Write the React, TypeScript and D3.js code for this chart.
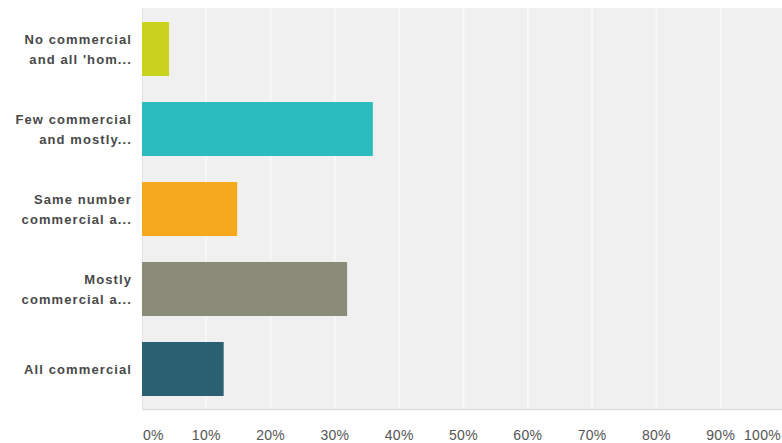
import React from "react";
import * as d3 from "d3";

const categories = ["c1", "c2", "c3", "c4", "c5"];
const labelLines = [
  ["No commercial", "and all 'hom..."],
  ["Few commercial", "and mostly..."],
  ["Same number", "commercial a..."],
  ["Mostly", "commercial a..."],
  ["All commercial"],
];
const values = [4.2, 35.9, 14.8, 31.9, 12.7];
const colors = ["#c9d31e", "#2bbcbf", "#f6a91c", "#8a8b79", "#2b5f72"];
const ticks = [0, 10, 20, 30, 40, 50, 60, 70, 80, 90, 100];

export default function App() {
  const W = 782;
  const H = 443;
  const x = d3.scaleLinear().domain([0, 100]).range([142, 785]);
  const y = d3
    .scaleBand<string>()
    .domain(categories)
    .range([9, 409])
    .paddingInner(0.325)
    .paddingOuter(0.1625);
  const font = "'Liberation Sans', Arial, Helvetica, sans-serif";
  return (
    <svg
      width={W}
      height={H}
      style={{ position: "absolute", left: 0, top: 0, background: "#fff" }}
    >
      <rect x={142} y={8} width={W - 142} height={401} fill="#f0f0f0" />
      {ticks.slice(1).map((t) => (
        <line
          key={t}
          x1={x(t)}
          x2={x(t)}
          y1={8}
          y2={409}
          stroke="#f9f9f9"
          strokeWidth={1.5}
        />
      ))}
      <line x1={142} x2={W} y1={409.5} y2={409.5} stroke="#dedede" strokeWidth={1.5} />
      <line x1={142.5} x2={142.5} y1={8} y2={410} stroke="#e4e4e4" strokeWidth={1} />
      {categories.map((c, i) => (
        <rect
          key={c}
          x={x(0)}
          y={y(c)!}
          width={x(values[i]) - x(0)}
          height={y.bandwidth()}
          fill={colors[i]}
        />
      ))}
      {categories.map((c, i) => {
        const lines = labelLines[i];
        const cy = y(c)! + y.bandwidth() / 2;
        const lh = 20;
        const start = cy - ((lines.length - 1) * lh) / 2 + 4.5;
        return (
          <text
            key={c}
            textAnchor="end"
            fontFamily={font}
            fontWeight="bold"
            fontSize={13}
            letterSpacing={1.1}
            fill="#484848"
          >
            {lines.map((l, j) => (
              <tspan key={j} x={132} y={start + j * lh}>
                {l}
              </tspan>
            ))}
          </text>
        );
      })}
      {ticks.map((t) => {
        let anchor: "start" | "middle" | "end" = "middle";
        let tx = x(t);
        if (t === 0) {
          anchor = "start";
          tx = 143;
        }
        if (t === 100) {
          anchor = "end";
          tx = 781;
        }
        return (
          <text
            key={t}
            x={tx}
            y={440}
            textAnchor={anchor}
            fontFamily={font}
            fontSize={14}
            letterSpacing={0.3}
            fill="#555"
          >
            {t}%
          </text>
        );
      })}
    </svg>
  );
}
